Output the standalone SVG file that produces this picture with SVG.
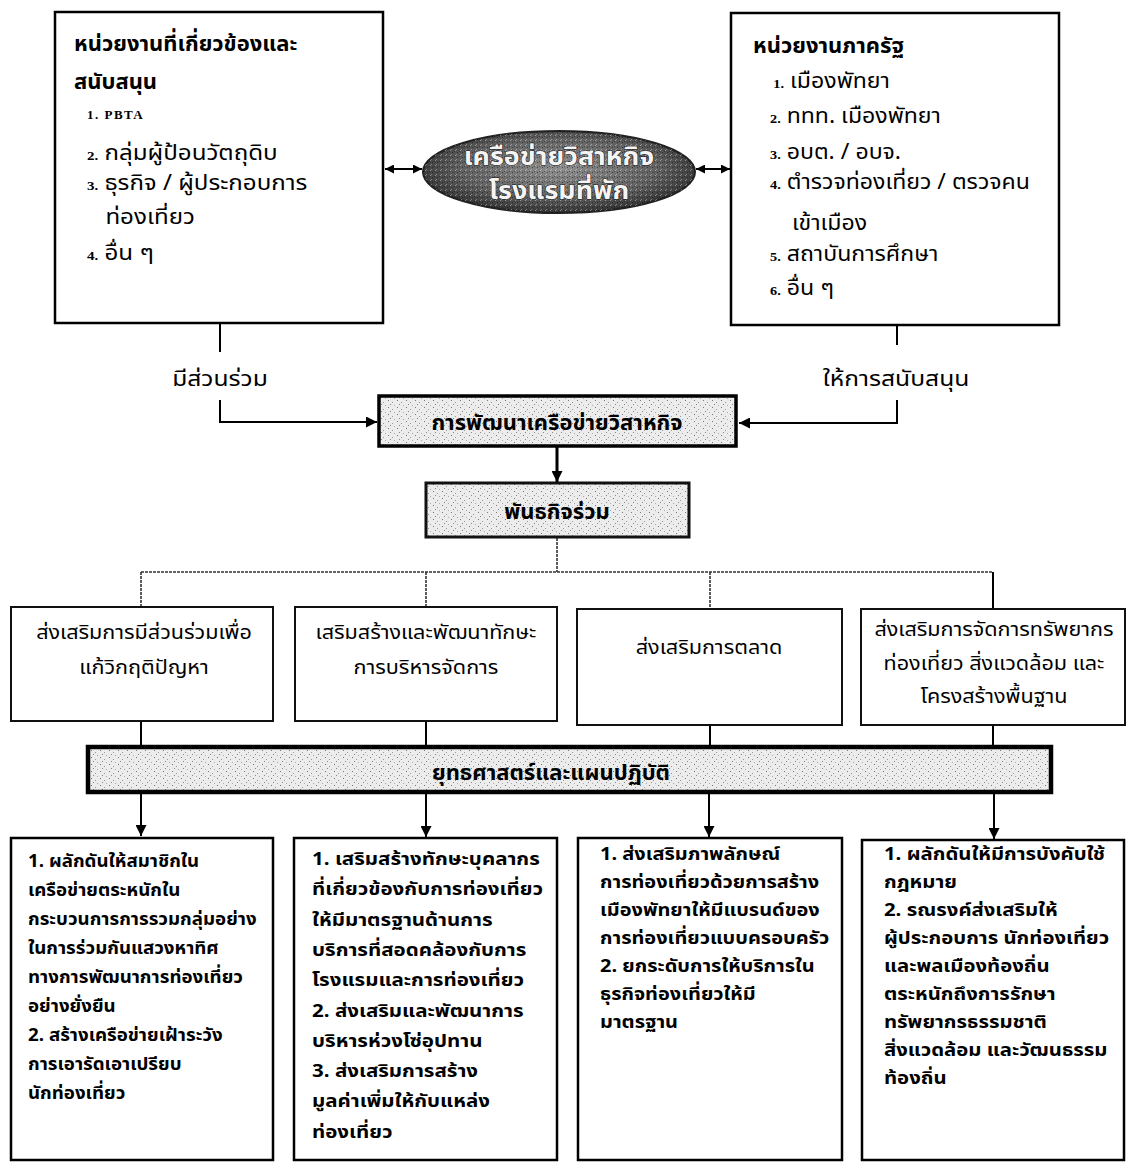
<svg xmlns="http://www.w3.org/2000/svg" width="1129" height="1167" viewBox="0 0 1129 1167">
<style>
  .box { fill: #ffffff; stroke: #000; stroke-width: 2.5; }
  .mbox { fill: #ffffff; stroke: #111; stroke-width: 2; }
  .th { font-family: 'Noto Sans Thai', 'Tahoma', 'DejaVu Sans', 'Noto Sans', sans-serif; fill: #000; }
  .title { font-size: 22px; font-weight: bold; }
  .item { font-size: 21px; }
  .num { font-family: 'Liberation Serif', serif; font-size: 13px; font-weight: bold; }
  .mid { font-size: 20px; text-anchor: middle; }
  .low { font-size: 18px; font-weight: bold; }
  .lbl { font-size: 22px; text-anchor: middle; }
  .head { font-size: 22px; font-weight: bold; text-anchor: middle; }
  .conn { fill: none; stroke: #000; stroke-width: 2; }
  .thick { fill: none; stroke: #000; stroke-width: 3; }
  .dot { fill: none; stroke: #333; stroke-width: 1.6; stroke-dasharray: 3 1; }
  .etext { font-size: 24px; font-weight: bold; text-anchor: middle; fill: #f4f4f4; stroke: #111; stroke-width: 1; paint-order: stroke; }
</style>
<defs>
  <marker id="ah" viewBox="0 0 10 10" refX="10" refY="5" markerWidth="11" markerHeight="11" markerUnits="userSpaceOnUse" orient="auto-start-reverse">
    <path d="M0,0 L10,5 L0,10 z" fill="#000"/>
  </marker>
  <marker id="ahs" viewBox="0 0 10 10" refX="10" refY="5" markerWidth="9" markerHeight="9" markerUnits="userSpaceOnUse" orient="auto-start-reverse">
    <path d="M0,0 L10,5 L0,10 z" fill="#000"/>
  </marker>
  <pattern id="speck" width="9" height="7" patternUnits="userSpaceOnUse">
    <rect width="9" height="7" fill="#ececec"/>
    <rect x="1" y="1" width="1" height="1" fill="#777"/>
    <rect x="5" y="3" width="1" height="1" fill="#999"/>
    <rect x="3" y="5" width="1" height="1" fill="#888"/>
    <rect x="7" y="6" width="1" height="1" fill="#aaa"/>
  </pattern>
  <radialGradient id="eg" cx="0.5" cy="0.45" r="0.6">
    <stop offset="0" stop-color="#8e8e8e"/>
    <stop offset="0.6" stop-color="#616161"/>
    <stop offset="1" stop-color="#262626"/>
  </radialGradient>
  <pattern id="especk" width="5" height="5" patternUnits="userSpaceOnUse">
    <rect x="0" y="0" width="1" height="1" fill="#fff" fill-opacity="0.4"/>
    <rect x="2" y="2" width="1" height="1" fill="#000" fill-opacity="0.45"/>
    <rect x="4" y="1" width="1" height="1" fill="#000" fill-opacity="0.35"/>
    <rect x="1" y="4" width="1" height="1" fill="#fff" fill-opacity="0.35"/>
  </pattern>
</defs>

<g id="connectors">
  <line x1="385" y1="169" x2="422" y2="169" class="conn" marker-start="url(#ahs)" marker-end="url(#ahs)"/>
  <line x1="696" y1="169" x2="730" y2="169" class="conn" marker-start="url(#ahs)" marker-end="url(#ahs)"/>
  <line x1="220" y1="323" x2="220" y2="352" class="conn"/>
  <polyline points="220,400 220,422 377,422" class="conn" marker-end="url(#ah)"/>
  <line x1="897" y1="325" x2="897" y2="345" class="conn"/>
  <polyline points="897,400 897,423 739,423" class="conn" marker-end="url(#ah)"/>
  <line x1="557" y1="447" x2="557" y2="482" class="thick" marker-end="url(#ah)"/>
  <line x1="557" y1="538" x2="557" y2="572" class="dot"/>
  <line x1="141" y1="572" x2="993" y2="572" class="dot"/>
  <line x1="141" y1="572" x2="141" y2="606" class="dot"/>
  <line x1="426" y1="572" x2="426" y2="606" class="dot"/>
  <line x1="710" y1="572" x2="710" y2="608" class="dot"/>
  <line x1="993" y1="572" x2="993" y2="608" class="conn"/>
  <line x1="141" y1="721" x2="141" y2="746" class="conn"/>
  <line x1="426" y1="721" x2="426" y2="746" class="conn"/>
  <line x1="710" y1="725" x2="710" y2="746" class="conn"/>
  <line x1="993" y1="725" x2="993" y2="746" class="conn"/>
  <line x1="141" y1="794" x2="141" y2="836" class="conn" marker-end="url(#ah)"/>
  <line x1="426" y1="794" x2="426" y2="837" class="conn" marker-end="url(#ah)"/>
  <line x1="709" y1="794" x2="709" y2="837" class="conn" marker-end="url(#ah)"/>
  <line x1="994" y1="794" x2="994" y2="839" class="conn" marker-end="url(#ah)"/>
</g>

<g id="node-related">
  <rect x="55" y="12" width="328" height="311" class="box"/>
  <text class="th title" x="74" y="51">หน่วยงานที่เกี่ยวข้องและ</text>
  <text class="th title" x="74" y="89">สนับสนุน</text>
  <text class="num" x="87" y="119" letter-spacing="1.5">1. PBTA</text>
  <g transform="translate(87 0) scale(1.15 1) translate(-87 0)">
    <text class="th item" x="87" y="160"><tspan class="num">2.</tspan> กลุ่มผู้ป้อนวัตถุดิบ</text>
    <text class="th item" x="87" y="190"><tspan class="num">3.</tspan> ธุรกิจ / ผู้ประกอบการ</text>
    <text class="th item" x="103" y="224">ท่องเที่ยว</text>
    <text class="th item" x="87" y="260"><tspan class="num">4.</tspan> อื่น ๆ</text>
  </g>
</g>

<g id="node-network">
  <ellipse cx="559" cy="172" rx="136" ry="41" fill="url(#eg)" stroke="#222" stroke-width="2"/>
  <ellipse cx="559" cy="172" rx="136" ry="41" fill="url(#especk)"/>
  <g transform="translate(559 0) scale(1.12 1) translate(-559 0)">
    <text class="th etext" x="559" y="165">เครือข่ายวิสาหกิจ</text>
    <text class="th etext" x="559" y="199">โรงแรมที่พัก</text>
  </g>
</g>

<g id="node-government">
  <rect x="731" y="13" width="328" height="312" class="box"/>
  <text class="th title" x="753" y="53">หน่วยงานภาครัฐ</text>
  <g transform="translate(770 0) scale(1.1 1) translate(-770 0)">
    <text class="th item" x="773" y="88"><tspan class="num">1.</tspan> เมืองพัทยา</text>
    <text class="th item" x="770" y="123"><tspan class="num">2.</tspan> ททท. เมืองพัทยา</text>
    <text class="th item" x="770" y="159"><tspan class="num">3.</tspan> อบต. / อบจ.</text>
    <text class="th item" x="770" y="189"><tspan class="num">4.</tspan> ตำรวจท่องเที่ยว / ตรวจคน</text>
    <text class="th item" x="790" y="230">เข้าเมือง</text>
    <text class="th item" x="770" y="261"><tspan class="num">5.</tspan> สถาบันการศึกษา</text>
    <text class="th item" x="770" y="295"><tspan class="num">6.</tspan> อื่น ๆ</text>
  </g>
</g>

<g id="label-participate">
  <text class="th lbl" x="220" y="386" transform="translate(220 0) scale(1.12 1) translate(-220 0)">มีส่วนร่วม</text>
</g>
<g id="label-support">
  <text class="th lbl" x="896" y="386" transform="translate(896 0) scale(1.12 1) translate(-896 0)">ให้การสนับสนุน</text>
</g>

<g id="node-development">
  <rect x="379" y="396" width="357" height="50" fill="url(#speck)" stroke="#000" stroke-width="3.5"/>
  <text class="th head" x="557" y="430">การพัฒนาเครือข่ายวิสาหกิจ</text>
</g>

<g id="node-mission">
  <rect x="426" y="483" width="263" height="54" fill="url(#speck)" stroke="#111" stroke-width="3"/>
  <text class="th head" x="557" y="519" font-size="25">พันธกิจร่วม</text>
</g>

<g id="node-m1">
  <rect x="11" y="607" width="262" height="114" class="mbox"/>
  <g transform="translate(144 0) scale(1.08 1) translate(-144 0)">
    <text class="th mid" x="144" y="639">ส่งเสริมการมีส่วนร่วมเพื่อ</text>
    <text class="th mid" x="144" y="674">แก้วิกฤติปัญหา</text>
  </g>
</g>
<g id="node-m2">
  <rect x="295" y="607" width="262" height="114" class="mbox"/>
  <g transform="translate(426 0) scale(1.08 1) translate(-426 0)">
    <text class="th mid" x="426" y="639">เสริมสร้างและพัฒนาทักษะ</text>
    <text class="th mid" x="426" y="674">การบริหารจัดการ</text>
  </g>
</g>
<g id="node-m3">
  <rect x="577" y="609" width="265" height="116" class="mbox"/>
  <text class="th mid" x="709" y="654" transform="translate(709 0) scale(1.08 1) translate(-709 0)">ส่งเสริมการตลาด</text>
</g>
<g id="node-m4">
  <rect x="861" y="609" width="264" height="116" class="mbox"/>
  <g transform="translate(994 0) scale(1.08 1) translate(-994 0)">
    <text class="th mid" x="994" y="636">ส่งเสริมการจัดการทรัพยากร</text>
    <text class="th mid" x="994" y="670">ท่องเที่ยว  สิ่งแวดล้อม  และ</text>
    <text class="th mid" x="994" y="703">โครงสร้างพื้นฐาน</text>
  </g>
</g>

<g id="node-strategy">
  <rect x="88" y="747" width="963" height="45" fill="url(#speck)" stroke="#000" stroke-width="4.5"/>
  <text class="th head" x="551" y="780" font-size="23">ยุทธศาสตร์และแผนปฏิบัติ</text>
</g>

<g id="node-b1">
  <rect x="11" y="838" width="262" height="322" class="box"/>
  <g transform="translate(28 0) scale(1.04 1) translate(-28 0)">
    <text class="th low" x="28" y="867">1. ผลักดันให้สมาชิกใน</text>
    <text class="th low" x="28" y="896">เครือข่ายตระหนักใน</text>
    <text class="th low" x="28" y="925">กระบวนการการรวมกลุ่มอย่าง</text>
    <text class="th low" x="28" y="954">ในการร่วมกันแสวงหาทิศ</text>
    <text class="th low" x="28" y="983">ทางการพัฒนาการท่องเที่ยว</text>
    <text class="th low" x="28" y="1012">อย่างยั่งยืน</text>
    <text class="th low" x="28" y="1041">2. สร้างเครือข่ายเฝ้าระวัง</text>
    <text class="th low" x="28" y="1070">การเอารัดเอาเปรียบ</text>
    <text class="th low" x="28" y="1099">นักท่องเที่ยว</text>
  </g>
</g>
<g id="node-b2">
  <rect x="294" y="838" width="263" height="322" class="box"/>
  <g transform="translate(312 0) scale(1.14 1) translate(-312 0)">
    <text class="th low" x="312" y="865">1. เสริมสร้างทักษะบุคลากร</text>
    <text class="th low" x="312" y="895">ที่เกี่ยวข้องกับการท่องเที่ยว</text>
    <text class="th low" x="312" y="926">ให้มีมาตรฐานด้านการ</text>
    <text class="th low" x="312" y="956">บริการที่สอดคล้องกับการ</text>
    <text class="th low" x="312" y="986">โรงแรมและการท่องเที่ยว</text>
    <text class="th low" x="312" y="1017">2. ส่งเสริมและพัฒนาการ</text>
    <text class="th low" x="312" y="1047">บริหารห่วงโซ่อุปทาน</text>
    <text class="th low" x="312" y="1077">3. ส่งเสริมการสร้าง</text>
    <text class="th low" x="312" y="1107">มูลค่าเพิ่มให้กับแหล่ง</text>
    <text class="th low" x="312" y="1138">ท่องเที่ยว</text>
  </g>
</g>
<g id="node-b3">
  <rect x="578" y="838" width="264" height="322" class="box"/>
  <g transform="translate(600 0) scale(1.11 1) translate(-600 0)">
    <text class="th low" x="600" y="860">1. ส่งเสริมภาพลักษณ์</text>
    <text class="th low" x="600" y="888">การท่องเที่ยวด้วยการสร้าง</text>
    <text class="th low" x="600" y="916">เมืองพัทยาให้มีแบรนด์ของ</text>
    <text class="th low" x="600" y="944">การท่องเที่ยวแบบครอบครัว</text>
    <text class="th low" x="600" y="972">2. ยกระดับการให้บริการใน</text>
    <text class="th low" x="600" y="1000">ธุรกิจท่องเที่ยวให้มี</text>
    <text class="th low" x="600" y="1028">มาตรฐาน</text>
  </g>
</g>
<g id="node-b4">
  <rect x="862" y="840" width="262" height="320" class="box"/>
  <g transform="translate(884 0) scale(1.13 1) translate(-884 0)">
    <text class="th low" x="884" y="860">1. ผลักดันให้มีการบังคับใช้</text>
    <text class="th low" x="884" y="888">กฎหมาย</text>
    <text class="th low" x="884" y="916">2. รณรงค์ส่งเสริมให้</text>
    <text class="th low" x="884" y="944">ผู้ประกอบการ  นักท่องเที่ยว</text>
    <text class="th low" x="884" y="972">และพลเมืองท้องถิ่น</text>
    <text class="th low" x="884" y="1000">ตระหนักถึงการรักษา</text>
    <text class="th low" x="884" y="1028">ทรัพยากรธรรมชาติ</text>
    <text class="th low" x="884" y="1056">สิ่งแวดล้อม และวัฒนธรรม</text>
    <text class="th low" x="884" y="1084">ท้องถิ่น</text>
  </g>
</g>
</svg>
